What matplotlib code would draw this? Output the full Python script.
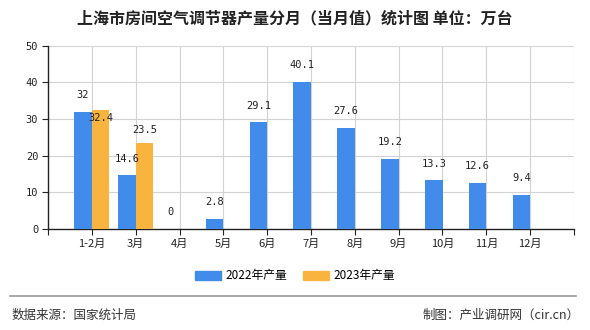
import matplotlib
matplotlib.use("Agg")
import matplotlib.pyplot as plt
import numpy as np
from matplotlib.patches import Patch
from matplotlib.lines import Line2D

plt.rcParams['font.family'] = ['Noto Sans CJK SC', 'DejaVu Sans']

categories = ["1-2月", "3月", "4月", "5月", "6月", "7月", "8月", "9月", "10月", "11月", "12月"]
values_2022 = [32, 14.6, 0, 2.8, 29.1, 40.1, 27.6, 19.2, 13.3, 12.6, 9.4]
values_2023 = [32.4, 23.5]
labels_2022 = ["32", "14.6", "0", "2.8", "29.1", "40.1", "27.6", "19.2", "13.3", "12.6", "9.4"]
labels_2023 = ["32.4", "23.5"]
series_names = ["2022年产量", "2023年产量"]
title = "上海市房间空气调节器产量分月（当月值）统计图 单位：万台"
yticks = [0, 10, 20, 30, 40, 50]

c_blue = "#418BEB"
c_orange = "#F9B33F"

fig = plt.figure(figsize=(5.9, 3.3), dpi=100)
ax = fig.add_axes([48/590, 1-229/330, (574-48)/590, (229-45.5)/330])

x = np.arange(1, len(categories)+1)
w = 0.4
ax.bar(x - w/2, values_2022, width=w, color=c_blue, zorder=3)
x23 = x[:len(values_2023)]
ax.bar(x23 + w/2, values_2023, width=w, color=c_orange, zorder=3)

num_font = dict(family=['DejaVu Sans Mono'], fontsize=7.5, color="#222222")
for xi, v, lab in zip(x, values_2022, labels_2022):
    ax.annotate(lab, (xi - w/2, v), xytext=(0, 12), textcoords="offset points",
                ha="center", va="center", zorder=5, **num_font)
for i, (xi, v, lab) in enumerate(zip(x23, values_2023, labels_2023)):
    off = 9.5
    if abs(v - values_2022[i]) < 3:
        off = -6
    ax.annotate(lab, (xi + w/2, v), xytext=(0, off), textcoords="offset points",
                ha="center", va="center", zorder=5, **num_font)

ax.set_xlim(0, 12)
ax.set_ylim(0, 50)
ax.set_xticks(np.arange(0, 13))
ax.set_xticklabels([""] + categories + [""], fontsize=8, color="#222222")
ax.set_yticks(yticks)
ax.set_yticklabels([str(t) for t in yticks], family=['DejaVu Sans Mono'], fontsize=7.5, color="#222222")
ax.grid(True, color="#d3d3d3", linewidth=0.8, zorder=0)
for s in ["top", "right"]:
    ax.spines[s].set_visible(False)
for s in ["left", "bottom"]:
    ax.spines[s].set_color("#222222")
    ax.spines[s].set_linewidth(1.0)
ax.tick_params(axis="both", length=4, width=0.8, color="#222222", pad=3)

fig.text(295/590, 1-18/330, title, ha="center", va="center", fontsize=11.5, fontweight="bold", color="#222222")

handles = [Patch(color=c_blue), Patch(color=c_orange)]
fig.legend(handles, series_names, loc="center", bbox_to_anchor=(0.5, 1-276/330),
           ncol=2, frameon=False, fontsize=8.5, handlelength=2.2, handleheight=0.9,
           columnspacing=1.3, handletextpad=0.4)

fig.add_artist(Line2D([10/590, 576/590], [1-296/330, 1-296/330], color="#999999", linewidth=1.2))
fig.text(12/590, 1-315/330, "数据来源：国家统计局", ha="left", va="center", fontsize=9, color="#333333")
fig.text(580/590, 1-315/330, "制图：产业调研网（cir.cn）", ha="right", va="center", fontsize=9, color="#333333")

fig.savefig("out.png", dpi=100)
